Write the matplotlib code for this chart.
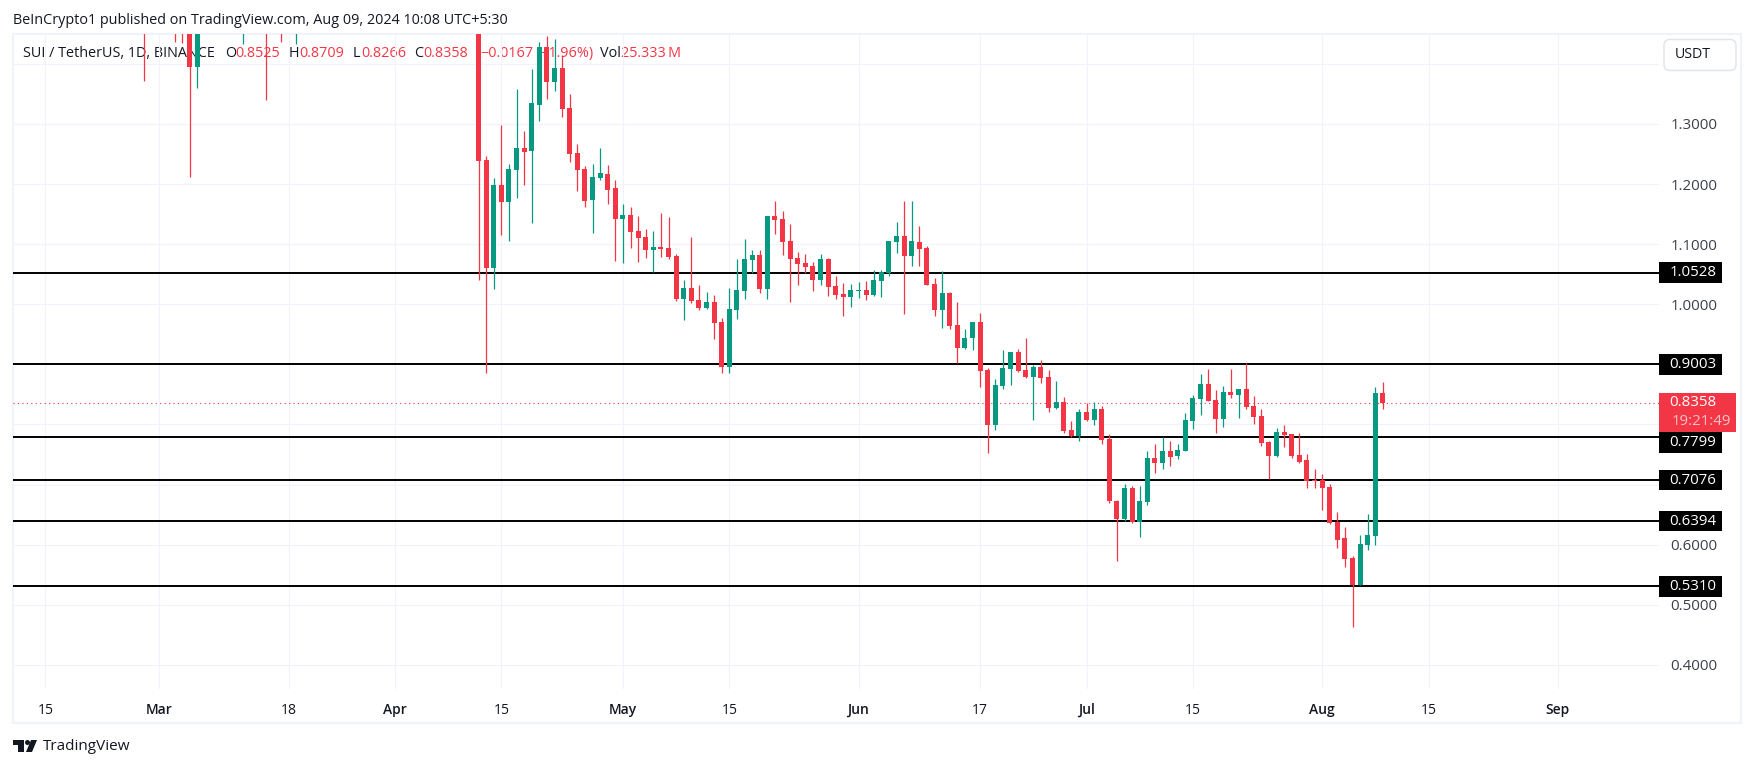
import numpy as np
import pandas as pd
import matplotlib
matplotlib.use("Agg")
import matplotlib.pyplot as plt
import matplotlib.dates as mdates
from matplotlib.patches import Rectangle, FancyBboxPatch, Polygon, Circle

plt.rcParams["font.family"] = ["Open Sans", "DejaVu Sans"]

UP = "#089981"
DOWN = "#F23645"
GRID = "#F0F3FA"
INK = "#131722"

# daily candles from Apr 12, 2024 to Aug 9, 2024
start_date = "2024-04-12"
opens = [1.52, 1.240, 1.061, 1.199, 1.171, 1.223, 1.260, 1.255, 1.332, 1.428, 1.370, 1.393, 1.327, 1.252, 1.225,
         1.174, 1.210, 1.217, 1.194, 1.142, 1.149, 1.122, 1.112, 1.090, 1.095, 1.094, 1.080, 1.009, 1.027, 1.007,
         0.994, 1.004, 0.971, 0.896, 0.991, 1.022, 1.074, 1.082, 1.025, 1.147, 1.142, 1.105, 1.077, 1.069, 1.064,
         1.040, 1.075, 1.030, 1.017, 1.012, 1.022, 1.024, 1.015, 1.039, 1.052, 1.104, 1.114, 1.080, 1.104, 1.094,
         1.034, 0.991, 1.019, 0.966, 0.927, 0.944, 0.971, 0.891, 0.799, 0.864, 0.892, 0.921, 0.891, 0.879, 0.896,
         0.879, 0.827, 0.837, 0.791, 0.781, 0.821, 0.807, 0.826, 0.776, 0.673, 0.643, 0.694, 0.638, 0.671, 0.744,
         0.736, 0.756, 0.748, 0.756, 0.806, 0.842, 0.867, 0.841, 0.809, 0.854, 0.849, 0.859, 0.831, 0.814, 0.771,
         0.748, 0.787, 0.784, 0.749, 0.741, 0.708, 0.708, 0.696, 0.638, 0.611, 0.578, 0.533, 0.600, 0.614, 0.8525]
highs = [1.56, 1.247, 1.210, 1.298, 1.233, 1.358, 1.288, 1.392, 1.436, 1.446, 1.441, 1.415, 1.350, 1.267, 1.230,
         1.233, 1.260, 1.232, 1.207, 1.167, 1.162, 1.147, 1.125, 1.122, 1.152, 1.145, 1.084, 1.040, 1.112, 1.032,
         1.020, 1.015, 0.977, 1.027, 1.075, 1.109, 1.090, 1.090, 1.147, 1.172, 1.155, 1.134, 1.087, 1.084, 1.070,
         1.084, 1.077, 1.047, 1.035, 1.034, 1.037, 1.039, 1.057, 1.057, 1.105, 1.137, 1.172, 1.172, 1.130, 1.097,
         1.044, 1.055, 1.020, 1.004, 0.959, 0.971, 0.986, 0.894, 0.876, 0.924, 0.921, 0.926, 0.944, 0.899, 0.907,
         0.891, 0.872, 0.846, 0.806, 0.826, 0.836, 0.837, 0.831, 0.784, 0.674, 0.701, 0.698, 0.698, 0.756, 0.768,
         0.779, 0.773, 0.768, 0.819, 0.849, 0.884, 0.892, 0.857, 0.864, 0.892, 0.859, 0.902, 0.847, 0.826, 0.773,
         0.794, 0.799, 0.784, 0.786, 0.751, 0.726, 0.718, 0.701, 0.654, 0.629, 0.581, 0.616, 0.651, 0.862, 0.8709]
lows = [1.040, 0.886, 1.026, 1.115, 1.105, 1.177, 1.199, 1.135, 1.305, 1.342, 1.355, 1.312, 1.237, 1.189, 1.162,
        1.119, 1.207, 1.167, 1.072, 1.069, 1.094, 1.070, 1.077, 1.054, 1.079, 1.075, 1.006, 0.974, 1.002, 0.991,
        0.992, 0.942, 0.886, 0.886, 0.976, 1.009, 1.052, 1.019, 1.009, 1.117, 1.082, 1.004, 1.032, 1.052, 1.022,
        1.032, 1.014, 1.009, 0.981, 0.996, 1.011, 1.007, 1.014, 1.012, 1.047, 1.085, 0.984, 1.064, 1.064, 1.032,
        0.981, 0.961, 0.959, 0.902, 0.926, 0.924, 0.862, 0.753, 0.791, 0.859, 0.866, 0.887, 0.877, 0.807, 0.869,
        0.821, 0.826, 0.786, 0.779, 0.773, 0.806, 0.799, 0.768, 0.669, 0.573, 0.639, 0.636, 0.613, 0.666, 0.719,
        0.726, 0.731, 0.743, 0.756, 0.793, 0.816, 0.839, 0.786, 0.796, 0.844, 0.811, 0.826, 0.801, 0.764, 0.709,
        0.746, 0.763, 0.744, 0.736, 0.694, 0.694, 0.658, 0.634, 0.594, 0.563, 0.463, 0.533, 0.591, 0.600, 0.8266]
closes = [1.239, 1.061, 1.199, 1.171, 1.225, 1.260, 1.253, 1.335, 1.428, 1.370, 1.393, 1.325, 1.250, 1.223, 1.172,
          1.212, 1.218, 1.190, 1.142, 1.149, 1.120, 1.110, 1.090, 1.095, 1.092, 1.079, 1.009, 1.027, 1.006, 0.994,
          1.004, 0.969, 0.896, 0.992, 1.024, 1.075, 1.082, 1.025, 1.147, 1.140, 1.104, 1.075, 1.067, 1.062, 1.040,
          1.075, 1.029, 1.015, 1.012, 1.024, 1.024, 1.015, 1.040, 1.054, 1.105, 1.114, 1.080, 1.105, 1.092, 1.032,
          0.991, 1.019, 0.964, 0.927, 0.944, 0.971, 0.889, 0.799, 0.866, 0.894, 0.921, 0.889, 0.879, 0.896, 0.877,
          0.827, 0.837, 0.789, 0.781, 0.821, 0.807, 0.826, 0.774, 0.673, 0.643, 0.694, 0.638, 0.673, 0.744, 0.736,
          0.756, 0.746, 0.758, 0.807, 0.844, 0.867, 0.839, 0.809, 0.854, 0.849, 0.859, 0.829, 0.813, 0.769, 0.748,
          0.787, 0.783, 0.748, 0.738, 0.706, 0.706, 0.694, 0.636, 0.608, 0.576, 0.533, 0.601, 0.616, 0.852, 0.8358]

# earlier candles, mostly above the visible range
early_dates = ["2024-02-28", "2024-03-03", "2024-03-04", "2024-03-05", "2024-03-06",
               "2024-03-12", "2024-03-15", "2024-03-17", "2024-03-19"]
early_opens = [1.52, 1.53, 1.51, 1.50, 1.395, 1.50, 1.62, 1.66, 1.62]
early_highs = [1.56, 1.55, 1.53, 1.55, 1.52, 1.55, 1.68, 1.70, 1.68]
early_lows = [1.372, 1.436, 1.435, 1.212, 1.360, 1.433, 1.340, 1.437, 1.433]
early_closes = [1.49, 1.50, 1.50, 1.395, 1.50, 1.54, 1.56, 1.60, 1.66]

levels = [1.0528, 0.9003, 0.7799, 0.7076, 0.6394, 0.5310]
level_tags = [1.0528, 0.9003, 0.7703, 0.7076, 0.6394, 0.5310]
last_price = 0.8358
countdown = "19:21:49"

price_ticks = [0.4, 0.5, 0.6, 0.7, 0.8, 0.9, 1.0, 1.1, 1.2, 1.3, 1.4]
price_labels = ["0.4000", "0.5000", "0.6000", "", "", "", "1.0000", "1.1000", "1.2000", "1.3000", ""]
date_ticks = ["2024-02-15", "2024-03-01", "2024-03-18", "2024-04-01", "2024-04-15", "2024-05-01", "2024-05-15",
              "2024-06-01", "2024-06-17", "2024-07-01", "2024-07-15", "2024-08-01", "2024-08-15", "2024-09-01"]
date_labels = ["15", "Mar", "18", "Apr", "15", "May", "15", "Jun", "17", "Jul", "15", "Aug", "15", "Sep"]

dates = mdates.date2num(pd.date_range(start_date, periods=len(opens), freq="D"))
all_dates = np.concatenate([mdates.date2num(pd.to_datetime(early_dates)), dates])
o = np.array(early_opens + opens)
h = np.array(early_highs + highs)
l = np.array(early_lows + lows)
c = np.array(early_closes + closes)
colors = np.where(c >= o, UP, DOWN)

W, H = 1754, 768
fig = plt.figure(figsize=(W / 100, H / 100), dpi=100, facecolor="white")

# page furniture drawn in pixel coordinates
bg = fig.add_axes([0, 0, 1, 1], zorder=0)
bg.set_xlim(0, W)
bg.set_ylim(H, 0)
bg.axis("off")
bg.add_patch(Rectangle((13, 34), 1727.5, 689, fill=False, ec=GRID, lw=1.5))
bg.text(13, 20, "BeInCrypto1 published on TradingView.com, Aug 09, 2024 10:08 UTC+5:30",
        fontsize=10.4, color=INK, va="center")

bg.text(23, 53.5, "SUI / TetherUS, 1D, BINANCE", fontsize=10.4, color=INK, va="center")
for xpos, txt, col in [(225, "O", INK), (235, "0.8525", DOWN), (289, "H", INK), (299, "0.8709", DOWN),
                       (353, "L", INK), (361, "0.8266", DOWN), (414, "C", INK), (423, "0.8358", DOWN),
                       (480, "\u22120.0167", DOWN), (536, "(\u22121.96%)", DOWN), (600, "Vol", INK),
                       (621, "25.333\u2009M", DOWN)]:
    bg.text(xpos, 53.5, txt, fontsize=10.4, color=col, va="center")

bg.add_patch(FancyBboxPatch((1664, 39.5), 72, 31, boxstyle="round,pad=0,rounding_size=6",
                            fc="white", ec="#E0E3EB", lw=1))
bg.text(1692.5, 55, "USDT", fontsize=10.2, color=INK, ha="center", va="center")

# TradingView mark
bg.add_patch(Polygon([(13, 740), (24, 740), (24, 752), (18, 752), (18, 745), (13, 745)], fc=INK, ec="none"))
bg.add_patch(Circle((27.5, 742.5), 2.5, fc=INK, ec="none"))
bg.add_patch(Polygon([(31, 740), (37, 740), (32, 752), (26, 752)], fc=INK, ec="none"))
bg.text(43, 746.5, "TradingView", fontsize=11, color=INK, va="center")

# price pane
left, right, top, bottom = 13, 1659, 34, 689
ax = fig.add_axes([left / W, 1 - bottom / H, (right - left) / W, (bottom - top) / H], zorder=1)
ax.patch.set_visible(False)
x0 = mdates.date2num(pd.Timestamp("2024-04-15"))
ax.set_xlim(x0 + (left - 501.3) / 7.6, x0 + (right - 501.3) / 7.6)
ax.set_ylim(1.3 - (bottom - 124) / 601, 1.3 + (124 - top) / 601)
for s in ax.spines.values():
    s.set_visible(False)

ax.set_xticks(mdates.date2num(pd.to_datetime(date_ticks)))
ax.set_xticklabels(date_labels, fontsize=10, color=INK)
for lab, txt in zip(ax.get_xticklabels(), date_labels):
    if not txt.isdigit():
        lab.set_fontweight("semibold")
ax.yaxis.tick_right()
ax.set_yticks(price_ticks)
ax.set_yticklabels(price_labels, fontsize=10.8, color="#3b3f4a")
ax.tick_params(axis="x", length=0, pad=10)
ax.tick_params(axis="y", length=0, pad=8)
ax.grid(True, color=GRID, lw=0.8)
ax.set_axisbelow(True)

ax.axhline(last_price, color=DOWN, lw=0.8, ls=(0, (1, 3)), zorder=2)
for lv in levels:
    ax.axhline(lv, color="black", lw=1.4, zorder=2.5)

# candles sit on top of the drawn levels
ax.vlines(all_dates, l, h, colors=colors, lw=0.9, zorder=3)
ax.bar(all_dates, np.maximum(np.abs(c - o), 0.0012), bottom=np.minimum(o, c), width=5 / 7.6,
       color=colors, linewidth=0, zorder=3)

# tags on the price scale
trans = ax.get_yaxis_transform()
pane_w = right - left
for tag, lv in zip(level_tags, levels):
    ax.add_patch(Rectangle((1, tag - 0.0172), 63 / pane_w, 0.0344, transform=trans, fc="black", ec="none",
                           clip_on=False, zorder=5))
    ax.text(1 + 34 / pane_w, tag, f"{lv:.4f}", transform=trans, color="white", fontsize=10.8, ha="center",
            va="center", zorder=6)

ax.add_patch(Rectangle((1, 0.7881), 77 / pane_w, 0.0649, transform=trans, fc=DOWN, ec="none", clip_on=False, zorder=7))
ax.text(1 + 34 / pane_w, last_price, f"{last_price:.4f}", transform=trans, color="white", fontsize=10.8,
        ha="center", va="center", zorder=8)
ax.text(1 + 42 / pane_w, 0.8047, countdown, transform=trans, color="#FBC1C7", fontsize=10.8,
        ha="center", va="center", zorder=8)

fig.savefig("out.png", dpi=100)
